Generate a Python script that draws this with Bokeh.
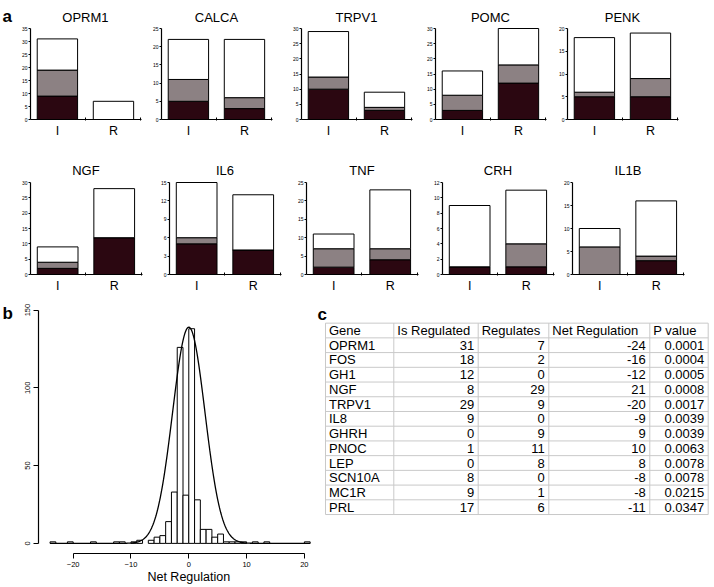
import numpy as np
from bokeh.plotting import figure
from bokeh.models import Range1d, FixedTicker, LinearAxis
from bokeh.layouts import row, column
from bokeh.embed import file_html
from bokeh.resources import INLINE
from bokeh.core.properties import value

FONT = "Liberation Sans"
DARK = "#2b0711"
GRAY = "#8c8183"

# ---------------- data: panel a ----------------
panel_genes = ["OPRM1", "CALCA", "TRPV1", "POMC", "PENK", "NGF", "IL6", "TNF", "CRH", "IL1B"]
y_max = [35, 25, 30, 30, 20, 30, 15, 25, 12, 20]
y_step = [5, 5, 5, 5, 5, 5, 3, 5, 2, 5]
bar_labels = ["I", "R"]
dark_I = [9, 5, 10, 3, 5, 2, 5, 2, 1, 0]
gray_I = [10, 6, 4, 5, 1, 2, 1, 5, 0, 6]
white_I = [12, 11, 15, 8, 12, 5, 9, 4, 8, 4]
dark_R = [0, 3, 3, 12, 5, 12, 4, 4, 1, 3]
gray_R = [0, 3, 1, 6, 4, 0, 0, 3, 3, 1]
white_R = [7, 16, 5, 12, 10, 16, 9, 16, 7, 12]

# ---------------- data: panel b ----------------
hist_left = [-24, -21, -17, -13, -12, -10, -9, -7, -6, -5, -4, -3, -2, -1, 0, 1, 2, 3, 4, 5, 6, 7, 8, 9, 11, 13, 20]
hist_count = [1, 1, 1, 1, 1, 1, 2, 2, 4, 5, 14, 33, 126, 31, 138, 28, 9, 9, 4, 6, 1, 1, 1, 1, 1, 1, 1]
hist_xticks = [-20, -10, 0, 10, 20]
hist_yticks = [0, 50, 100, 150]
hist_xlabel = "Net Regulation"
curve_mean = 0.0
curve_sd = 2.8
curve_peak = 139.0

# ---------------- data: panel c ----------------
table_headers = ["Gene", "Is Regulated", "Regulates", "Net Regulation", "P value"]
table_gene = ["OPRM1", "FOS", "GH1", "NGF", "TRPV1", "IL8", "GHRH", "PNOC", "LEP", "SCN10A", "MC1R", "PRL"]
is_regulated = [31, 18, 12, 8, 29, 9, 0, 1, 0, 8, 9, 17]
regulates = [7, 2, 0, 29, 9, 0, 9, 11, 8, 0, 1, 6]
net_regulation = [-24, -16, -12, 21, -20, -9, 9, 10, 8, -8, -8, -11]
p_value = ["0.0001", "0.0004", "0.0005", "0.0008", "0.0017", "0.0039", "0.0039",
           "0.0063", "0.0078", "0.0078", "0.0215", "0.0347"]


def base_fig(w, h, xr, yr, bl, br, bt, bb, axes=True):
    kw = {} if axes else dict(x_axis_location=None, y_axis_location=None)
    p = figure(width=w, height=h, output_backend="svg", toolbar_location=None, title=None,
               x_range=xr, y_range=yr, min_border_left=bl, min_border_right=br,
               min_border_top=bt, min_border_bottom=bb,
               background_fill_color="white", border_fill_color="white",
               outline_line_color=None, **kw)
    p.grid.visible = False
    return p


def letter_fig(letter, w, h, x, baseline):
    p = base_fig(w, h, Range1d(0, w), Range1d(h, 0), 0, 0, 0, 0, axes=False)
    p.text(x=[x], y=[baseline], text=[letter], text_font=value(FONT),
           text_font_size=value("17px"), text_font_style=value("bold"), text_color="black",
           text_align=value("left"), text_baseline=value("alphabetic"))
    return p


def bar_panel(k, fig_l, fig_r, frame_l, frame_w, fig_top, fig_h, frame_top, axis_top, axis_bot,
              title_base):
    span = axis_bot - axis_top
    y_end = y_max[k] * (axis_bot - frame_top) / span
    p = base_fig(fig_r - fig_l, fig_h, Range1d(0.52, 2.5), Range1d(0, y_end),
                 frame_l - fig_l, fig_r - frame_l - frame_w, frame_top - fig_top,
                 fig_top + fig_h - axis_bot)
    xs = [1, 2]
    d = [dark_I[k], dark_R[k]]
    g = [gray_I[k], gray_R[k]]
    w = [white_I[k], white_R[k]]
    t1 = [d[j] + g[j] for j in range(2)]
    t2 = [t1[j] + w[j] for j in range(2)]
    for bottom, top, col in [([0, 0], d, DARK), (d, t1, GRAY), (t1, t2, "white")]:
        p.vbar(x=xs, bottom=bottom, top=top, width=0.72, fill_color=col,
               line_color="black", line_width=1)
    xa = p.xaxis[0]
    xa.ticker = FixedTicker(ticks=[1, 2], minor_ticks=[1.5, 2.49])
    xa.major_label_overrides = {1: bar_labels[0], 2: bar_labels[1]}
    xa.major_tick_in = 0
    xa.major_tick_out = 0
    xa.minor_tick_in = 2
    xa.minor_tick_out = 1
    xa.major_label_text_font = FONT
    xa.major_label_text_font_size = "12.5px"
    xa.major_label_text_color = "black"
    xa.major_label_standoff = 3
    xa.axis_line_width = 1.2
    ya = p.yaxis[0]
    ya.ticker = FixedTicker(ticks=list(range(0, y_max[k] + 1, y_step[k])), minor_ticks=[])
    ya.bounds = (0, y_max[k])
    ya.major_tick_in = 0
    ya.major_tick_out = 2
    ya.minor_tick_out = 0
    ya.major_label_text_font = FONT
    ya.major_label_text_font_size = "5px"
    ya.major_label_text_color = "black"
    ya.major_label_standoff = 1
    ya.axis_line_width = 1.2
    title_y = y_max[k] * (axis_bot - title_base) / span
    p.text(x=[1.5], y=[title_y], text=[panel_genes[k]], text_font=value(FONT),
           text_font_size=value("13px"), text_color="black", text_align=value("center"),
           text_baseline=value("alphabetic"))
    return p


# ---- row 1 (page y 0..145) ----
r1_edges = [14, 145, 285, 418, 552, 714]
r1_frame_l = [30, 161, 301, 435, 567]
row1 = row([letter_fig("a", 14, 145, 2, 17)] +
           [bar_panel(i, r1_edges[i], r1_edges[i + 1], r1_frame_l[i], 111,
                      0, 145, 2, 28, 119, 17) for i in range(5)], spacing=0)

# ---- row 2 (page y 145..296) ----
r2_edges = [0, 152, 290, 426, 557, 714]
r2_frame_l = [30, 169, 306, 442, 572]
row2 = row([bar_panel(i + 5, r2_edges[i], r2_edges[i + 1], r2_frame_l[i], 112,
                      145, 151, 147, 182, 274, 170) for i in range(5)], spacing=0)

# ---- histogram (b), page x 14..316, y 296..587 ----
ph = base_fig(302, 291, Range1d(-26.0, 21.75), Range1d(-6.5, 155.5), 24, 2, 5, 34)
ph.quad(left=hist_left, right=[v + 1 for v in hist_left], bottom=0, top=hist_count,
        fill_color="white", line_color="black", line_width=1)
cx = np.linspace(min(hist_left), max(hist_left) + 1, 400)
cy = curve_peak * np.exp(-0.5 * ((cx - curve_mean) / curve_sd) ** 2)
ph.line(cx, cy, line_color="black", line_width=1.3)
xa = ph.xaxis[0]
xa.ticker = FixedTicker(ticks=hist_xticks, minor_ticks=[])
xa.bounds = (hist_xticks[0], hist_xticks[-1])
xa.major_tick_out = 5
xa.major_tick_in = 0
xa.major_label_text_font = FONT
xa.major_label_text_font_size = "7.5px"
xa.major_label_text_color = "black"
xa.major_label_standoff = 3
xa.axis_line_width = 1.2
# axis title, centred under x = 0 as in the original
lab_axis = LinearAxis(ticker=FixedTicker(ticks=[0], minor_ticks=[]),
                      major_label_overrides={0: hist_xlabel}, axis_line_color=None,
                      major_tick_line_color=None, minor_tick_line_color=None,
                      major_tick_out=0, major_tick_in=0, major_label_standoff=0,
                      major_label_text_font=FONT, major_label_text_font_size="12.5px",
                      major_label_text_color="black")
ph.add_layout(lab_axis, "below")
ya = ph.yaxis[0]
ya.ticker = FixedTicker(ticks=hist_yticks, minor_ticks=[])
ya.bounds = (hist_yticks[0], hist_yticks[-1])
ya.major_tick_out = 5
ya.major_tick_in = 0
ya.major_label_orientation = "vertical"
ya.major_label_text_font = FONT
ya.major_label_text_font_size = "7.5px"
ya.major_label_text_color = "black"
ya.major_label_standoff = 3
ya.axis_line_width = 1.2

# ---- table (c), page x 316..714, y 296..587 ----
TW, TH = 398, 291
pt = base_fig(TW, TH, Range1d(0, TW), Range1d(TH, 0), 0, 0, 0, 0, axes=False)
col_edges = [9, 77.3, 161.7, 232.3, 333.3, 391.7]
t_top, row_h = 25, 17
n_rows = len(table_gene) + 1
t_bot = t_top + n_rows * row_h
hy = [t_top + r * row_h for r in range(n_rows + 1)]
pt.segment(x0=[col_edges[0]] * len(hy), x1=[col_edges[-1]] * len(hy), y0=hy, y1=hy,
           line_color="#c9c9c9", line_width=1)
pt.segment(x0=col_edges, x1=col_edges, y0=[t_top] * len(col_edges), y1=[t_bot] * len(col_edges),
           line_color="#c9c9c9", line_width=1)
txt = dict(text_font=value(FONT), text_font_size=value("13px"), text_color="black",
           text_baseline=value("middle"))
pt.text(x=[e + 3.5 for e in col_edges[:-1]], y=[t_top + row_h / 2] * 5, text=table_headers,
        text_align=value("left"), **txt)
row_y = [t_top + (r + 1.5) * row_h for r in range(len(table_gene))]
pt.text(x=[col_edges[0] + 3.5] * len(table_gene), y=row_y, text=table_gene,
        text_align=value("left"), **txt)
for ci, colvals in enumerate([is_regulated, regulates, net_regulation, p_value]):
    pt.text(x=[col_edges[ci + 2] - 4] * len(colvals), y=row_y, text=[str(v) for v in colvals],
            text_align=value("right"), **txt)
pt.text(x=[1], y=[15], text=["c"], text_font=value(FONT), text_font_size=value("17px"),
        text_font_style=value("bold"), text_color="black", text_align=value("left"),
        text_baseline=value("alphabetic"))

row3 = row([letter_fig("b", 14, 291, 2, 14), ph, pt], spacing=0)
layout = column([row1, row2, row3], spacing=0)

open("out.html", "w").write(file_html(layout, INLINE))
